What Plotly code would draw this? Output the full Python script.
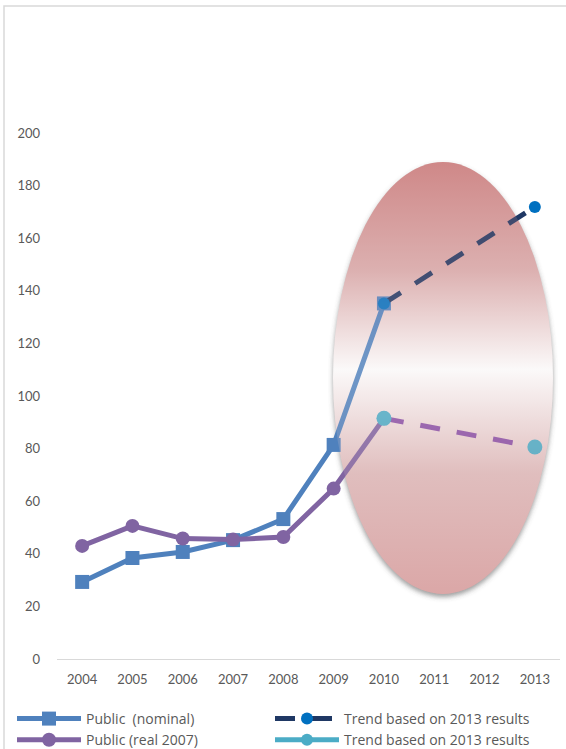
import base64
import plotly.graph_objects as go

years = ["2004", "2005", "2006", "2007", "2008", "2009", "2010", "2011", "2012", "2013"]
nominal_years = ["2004", "2005", "2006", "2007", "2008", "2009", "2010"]
nominal_values = [29.3, 38.4, 40.7, 45.2, 53.2, 81.4, 135.2]
real_values = [43.0, 50.6, 45.8, 45.4, 46.4, 64.8, 91.5]
trend_years = ["2010", "2013"]
trend_nominal = [135.2, 171.9]
trend_real = [91.5, 80.6]
y_ticks = [0, 20, 40, 60, 80, 100, 120, 140, 160, 180, 200]

W, H = 566, 749
ML, MR, MT, MB = 57, 6, 133, 90
PW = W - ML - MR
PH = H - MT - MB


def px_x(p):
    return (p - ML) / PW


def px_y(p):
    return (H - MB - p) / PH


svg = """<svg xmlns='http://www.w3.org/2000/svg' width='230' height='450' viewBox='0 0 230 450' preserveAspectRatio='none'>
<defs>
<linearGradient id='g' x1='0' y1='0' x2='0' y2='1'>
<stop offset='0' stop-color='rgb(207,136,136)'/>
<stop offset='0.25' stop-color='rgb(220,176,176)'/>
<stop offset='0.48' stop-color='rgb(251,249,249)'/>
<stop offset='0.72' stop-color='rgb(224,190,190)'/>
<stop offset='1' stop-color='rgb(219,167,167)'/>
</linearGradient>
<filter id='s' x='-20%' y='-20%' width='140%' height='140%'>
<feGaussianBlur stdDeviation='2.5'/>
</filter>
</defs>
SHADOW
<ellipse cx='115' cy='218' rx='110' ry='216' fill='url(#g)'/>
</svg>"""
shadow = "<ellipse cx='115' cy='221' rx='110' ry='216' fill='rgba(80,80,80,0.55)' filter='url(#s)'/>"
svg_below = svg.replace("SHADOW", shadow)
svg_top = svg.replace("SHADOW", "")
src_below = "data:image/svg+xml;base64," + base64.b64encode(svg_below.encode()).decode()
src_above = "data:image/svg+xml;base64," + base64.b64encode(svg_top.encode()).decode()

fig = go.Figure()

fig.add_trace(go.Scatter(
    x=nominal_years, y=nominal_values, name="Public  (nominal)",
    mode="lines+markers", legend="legend",
    line=dict(color="#4f81bd", width=5),
    marker=dict(symbol="square", size=14, color="#4f81bd"),
))
fig.add_trace(go.Scatter(
    x=trend_years, y=trend_nominal, name="Trend based on 2013 results",
    mode="lines+markers", legend="legend2",
    line=dict(color="#1f3864", width=5, dash="20px,17px"),
    marker=dict(symbol="circle", size=12, color="#0070c0"),
))
fig.add_trace(go.Scatter(
    x=nominal_years, y=real_values, name="Public (real 2007)",
    mode="lines+markers", legend="legend",
    line=dict(color="#8064a2", width=5),
    marker=dict(symbol="circle", size=14, color="#8064a2"),
))
fig.add_trace(go.Scatter(
    x=trend_years, y=trend_real, name="Trend based on 2013 results",
    mode="lines+markers", showlegend=False,
    line=dict(color="#8a4fa6", width=5, dash="20px,17px"),
    marker=dict(symbol="circle", size=15, color="#4bacc6"),
))
fig.add_trace(go.Scatter(
    x=[None], y=[None], name="Trend based on 2013 results",
    mode="lines+markers", legend="legend2",
    line=dict(color="#4bacc6", width=5),
    marker=dict(symbol="circle", size=12, color="#4bacc6"),
))

img_x = px_x(328)
img_y = px_y(160)
img_w = 230 / PW
img_h = 450 / PH
for src, layer, op in [(src_below, "below", 1.0), (src_above, "above", 0.18)]:
    fig.add_layout_image(dict(
        source=src, xref="paper", yref="paper",
        x=img_x, y=img_y, sizex=img_w, sizey=img_h,
        xanchor="left", yanchor="top", sizing="stretch",
        layer=layer, opacity=op,
    ))

fig.add_shape(type="rect", xref="paper", yref="paper",
              x0=px_x(4), x1=px_x(580), y0=px_y(6), y1=px_y(760),
              line=dict(color="#d9d9d9", width=1.5), fillcolor="rgba(0,0,0,0)")

legend_common = dict(
    orientation="v", xanchor="left", yanchor="top", itemwidth=64,
    font=dict(family="Open Sans, sans-serif", size=14, color="#595959"),
    tracegroupgap=0, bgcolor="rgba(0,0,0,0)",
)

fig.update_layout(
    width=W, height=H,
    margin=dict(l=ML, r=MR, t=MT, b=MB, autoexpand=False),
    paper_bgcolor="white", plot_bgcolor="white",
    font=dict(family="Lato, Open Sans, sans-serif", size=12, color="#595959"),
    showlegend=True,
    legend=dict(x=px_x(12), y=px_y(703), **legend_common),
    legend2=dict(x=px_x(270), y=px_y(703), **legend_common),
    xaxis=dict(
        type="category", categoryorder="array", categoryarray=years,
        tickvals=years, range=[-0.5, 9.5],
        showgrid=False, zeroline=False, showline=True, linecolor="#d9d9d9", linewidth=1,
        ticks="", ticklabelstandoff=8, tickfont=dict(size=13, color="#595959"),
    ),
    yaxis=dict(
        range=[0, 200], tickvals=y_ticks, showgrid=False, zeroline=False,
        showline=False, ticks="", ticklabelstandoff=16,
        tickfont=dict(size=13, color="#595959"),
    ),
)

fig.write_html(
    "out.html",
    config={"displayModeBar": False},
    post_script="document.body.style.margin='0';document.body.style.overflow='hidden';",
)
